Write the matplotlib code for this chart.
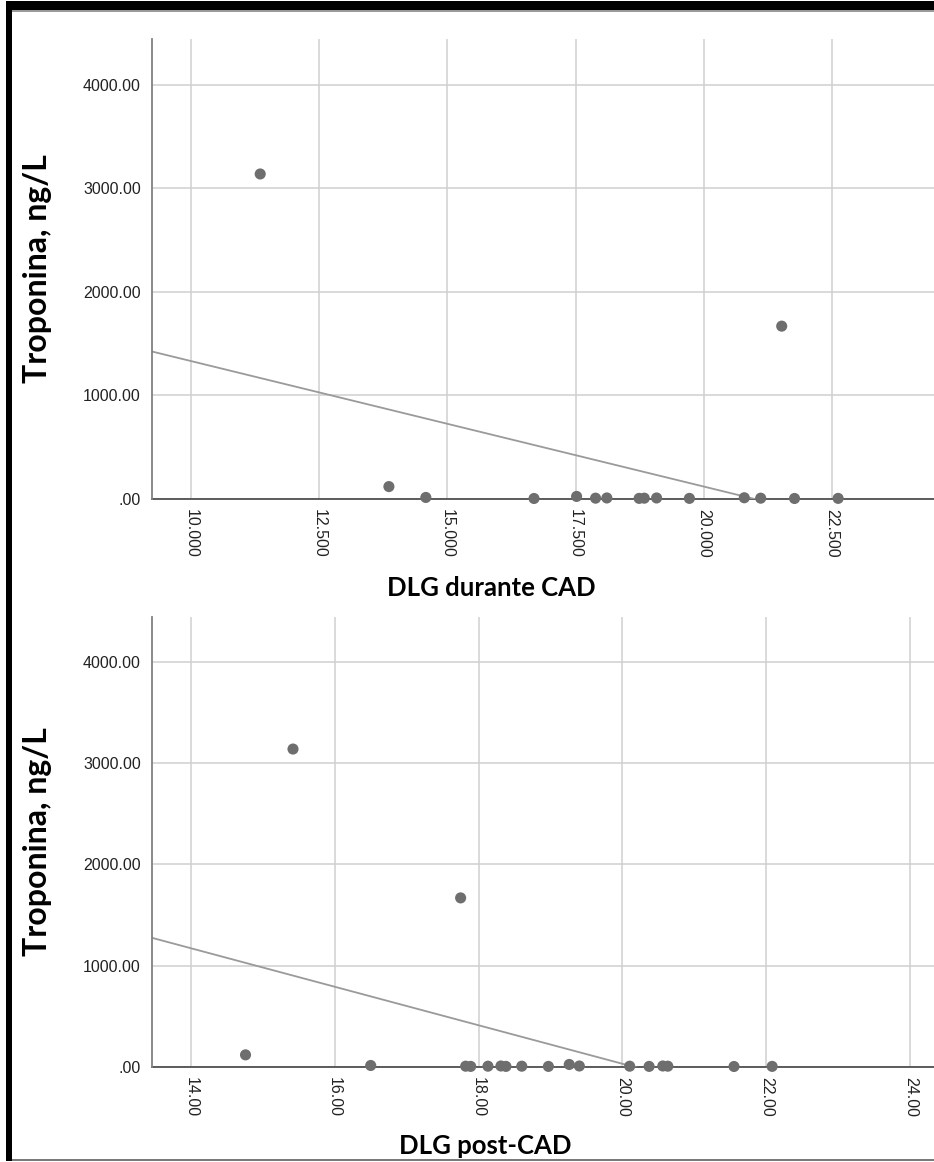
import numpy as np
import matplotlib
matplotlib.use("Agg")
import matplotlib.pyplot as plt
from matplotlib.patches import Rectangle

# ---- data ----
dlg_durante = [11.35, 13.86, 14.58, 16.69, 17.52, 17.89, 18.11, 18.74, 18.84,
               19.08, 19.72, 20.79, 21.11, 21.52, 21.77, 22.62]
trop_durante = [3140, 120, 15, 5, 25, 8, 10, 6, 8, 10, 6, 12, 8, 1670, 5, 6]

dlg_post = [14.76, 15.42, 16.50, 17.75, 17.82, 17.89, 18.13, 18.31, 18.38, 18.60,
            18.97, 19.26, 19.40, 20.10, 20.37, 20.56, 20.63, 21.55, 22.08]
trop_post = [120, 3140, 15, 1670, 8, 6, 8, 10, 6, 8, 6, 25, 10, 8, 6, 10, 8, 5, 6]

y_ticks = [0, 1000, 2000, 3000, 4000]
y_ticklabels = [".00", "1000.00", "2000.00", "3000.00", "4000.00"]

x_ticks_top = [10.0, 12.5, 15.0, 17.5, 20.0, 22.5]
x_ticklabels_top = ["10.000", "12.500", "15.000", "17.500", "20.000", "22.500"]
x_ticks_bot = [14, 16, 18, 20, 22, 24]
x_ticklabels_bot = ["14.00", "16.00", "18.00", "20.00", "22.00", "24.00"]

ylabel = "Troponina, ng/L"
xlabel_top = "DLG durante CAD"
xlabel_bot = "DLG post-CAD"

W, H = 934, 1162
fig = plt.figure(figsize=(W / 100, H / 100), dpi=100)
fig.patch.set_facecolor("white")

def px_axes(left, top, right, bottom):
    return fig.add_axes([left / W, 1 - bottom / H, (right - left) / W, (bottom - top) / H])

ax1 = px_axes(152, 39, 934, 499)
ax2 = px_axes(152, 617, 934, 1067)

tick_font = dict(family=["Liberation Sans", "DejaVu Sans"], size=11.5, color="#222222")
ylabel_font = dict(family=["Lato", "DejaVu Sans"], size=23, weight="bold", color="black")
xlabel_font = dict(family=["Lato", "DejaVu Sans"], size=18.5, weight="bold", color="black")

def style(ax, xs, ys, xlim, xticks, xticklabels, xlabel, xlabel_x, xlabel_y):
    ax.set_xlim(*xlim)
    ax.set_ylim(0, 4444)
    ax.set_yticks(y_ticks)
    ax.set_yticklabels(y_ticklabels, **tick_font)
    ax.set_xticks(xticks)
    ax.set_xticklabels(xticklabels, rotation=270, va="top", ha="center", **tick_font)
    ax.tick_params(axis="both", length=0)
    ax.tick_params(axis="y", pad=8)
    ax.tick_params(axis="x", pad=7)
    ax.grid(True, color="#cfcfcf", linewidth=1.1)
    ax.set_axisbelow(True)
    for s in ("top", "right"):
        ax.spines[s].set_visible(False)
    ax.spines["left"].set_color("#808080")
    ax.spines["left"].set_linewidth(1.3)
    ax.spines["bottom"].set_color("#505050")
    ax.spines["bottom"].set_linewidth(1.3)
    ax.spines["bottom"].set_zorder(1)

    # fit line (OLS)
    b, a = np.polyfit(xs, ys, 1)
    xl = np.array(xlim)
    ax.plot(xl, a + b * xl, color="#9a9a9a", linewidth=1.3, zorder=2)
    ax.scatter(xs, ys, s=64, color="#6e6e6e", edgecolors="none", zorder=3, clip_on=False)

    ax.set_ylabel(ylabel, va="center", **ylabel_font)
    ax.yaxis.set_label_coords(-(152 - 38) / (934 - 152), 0.5)
    fig.text(xlabel_x / W, 1 - xlabel_y / H, xlabel, ha="center", va="center", **xlabel_font)

style(ax1, dlg_durante, trop_durante, (9.24, 24.49), x_ticks_top, x_ticklabels_top,
      xlabel_top, 491, 588)
style(ax2, dlg_post, trop_post, (13.46, 24.33), x_ticks_bot, x_ticklabels_bot,
      xlabel_bot, 485, 1146)

# ---- black frame like the reference ----
def px_rect(x0, y0, x1, y1, color):
    fig.add_artist(Rectangle((x0 / W, 1 - y1 / H), (x1 - x0) / W, (y1 - y0) / H,
                             transform=fig.transFigure, facecolor=color,
                             edgecolor="none", zorder=10))

px_rect(6, 1, W, 10, "black")        # top band
px_rect(6, 10, W, 11.5, "#9a9a9a")   # thin gray under top band
px_rect(6, 1, 12, 1161, "black")     # left band
px_rect(12, 1159, W, 1161, "#7a7a7a")  # bottom thin line

fig.savefig("out.png", dpi=100, facecolor="white")
